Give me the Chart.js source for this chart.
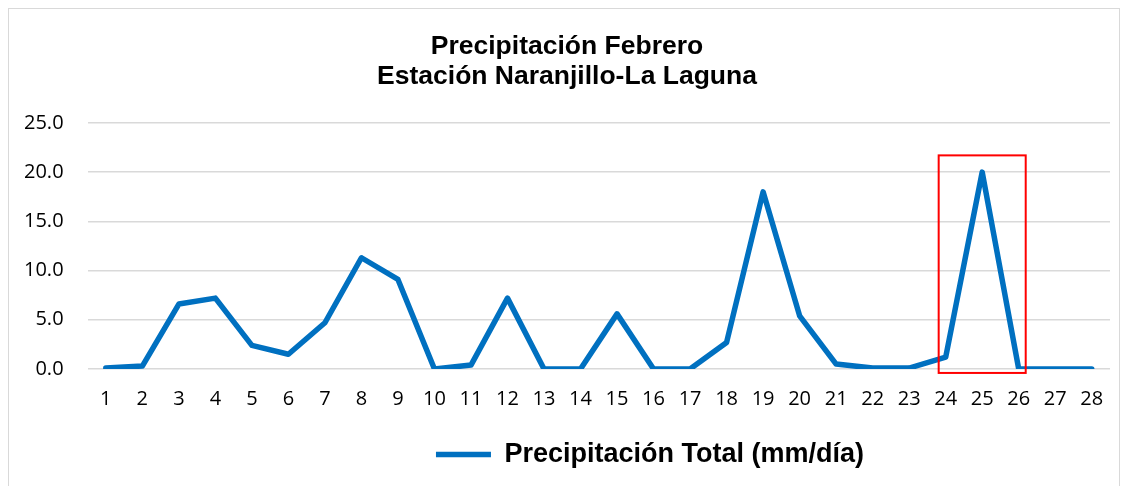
<!DOCTYPE html>
<html>
<head>
<meta charset="utf-8">
<script src="https://cdn.jsdelivr.net/npm/chart.js@4/dist/chart.umd.min.js"></script>
<style>
  html, body { margin: 0; padding: 0; background: #fff; }
  #wrap { width: 1127px; height: 486px; }
</style>
</head>
<body>
<div id="wrap"><canvas id="lluvia" width="1127" height="486"></canvas></div>
<script>
// dias de febrero
const dias = ['1','2','3','4','5','6','7','8','9','10','11','12','13','14','15','16','17','18','19','20','21','22','23','24','25','26','27','28'];
// precipitacion total (mm/dia)
const precipitacion = [0.1, 0.3, 6.6, 7.2, 2.4, 1.5, 4.7, 11.3, 9.1, 0.0, 0.4, 7.2, 0.0, 0.0, 5.6, 0.0, 0.0, 2.7, 18.0, 5.4, 0.5, 0.1, 0.1, 1.2, 20.0, 0.0, 0.0, 0.0];
const tituloLineas = ['Precipitación Febrero', 'Estación Naranjillo-La Laguna'];
const nombreSerie = 'Precipitación Total (mm/día)';
// tramo resaltado (dia inicio, dia fin) y rango en mm
const resaltoDias = ['24', '26'];
const resaltoValores = [-0.4, 21.7];

// en excel el titulo y la leyenda no estan centrados del todo
const corrimientoTitulo = 24;
const corrimientoLeyenda = 190;

const marco = {
  id: 'marco',
  afterLayout(chart) {
    chart.titleBlock.left += corrimientoTitulo;
    chart.legend.left += corrimientoLeyenda;
  },
  beforeDraw(chart) {
    const ctx = chart.ctx;
    ctx.save();
    ctx.fillStyle = '#fff';
    ctx.fillRect(0, 0, chart.width, chart.height);
    ctx.strokeStyle = '#d9d9d9';
    ctx.lineWidth = 1;
    ctx.strokeRect(8.5, 8.5, chart.width - 16, chart.height + 10);
    ctx.restore();
  }
};

const recuadro = {
  id: 'recuadro',
  afterDatasetsDraw(chart) {
    const x = chart.scales.x, y = chart.scales.y;
    const x1 = x.getPixelForValue(dias.indexOf(resaltoDias[0])) - 7;
    const x2 = x.getPixelForValue(dias.indexOf(resaltoDias[1])) + 7;
    const y1 = y.getPixelForValue(resaltoValores[1]);
    const y2 = y.getPixelForValue(resaltoValores[0]);
    const ctx = chart.ctx;
    ctx.save();
    ctx.strokeStyle = '#ff0000';
    ctx.lineWidth = 2;
    ctx.strokeRect(x1, y1, x2 - x1, y2 - y1);
    ctx.restore();
  }
};

new Chart(document.getElementById('lluvia'), {
  type: 'line',
  data: {
    labels: dias,
    datasets: [{
      label: nombreSerie,
      data: precipitacion,
      borderColor: '#0070c0',
      backgroundColor: '#0070c0',
      borderWidth: 5.5,
      borderCapStyle: 'round',
      borderJoinStyle: 'round',
      pointRadius: 0,
      tension: 0
    }]
  },
  options: {
    responsive: false,
    animation: false,
    layout: { padding: { left: 0, right: 17, top: 0, bottom: 8 } },
    plugins: {
      title: {
        display: true,
        text: tituloLineas,
        color: '#000',
        font: { family: 'Liberation Sans, Arial', size: 26.5, weight: 'bold', lineHeight: 1.13 },
        padding: { top: 32, bottom: 31 }
      },
      legend: {
        position: 'bottom',
        labels: {
          color: '#000',
          font: { family: 'Liberation Sans, Arial', size: 27, weight: 'bold' },
          usePointStyle: true,
          pointStyle: 'line',
          pointStyleWidth: 55,
          padding: 10
        }
      },
      tooltip: { enabled: false }
    },
    scales: {
      x: {
        offset: true,
        grid: { display: false },
        border: { display: false },
        ticks: { color: '#000', font: { family: 'Open Sans', size: 20 }, padding: 10, maxRotation: 0 },
        afterFit: s => { s.height += 10; }
      },
      y: {
        min: 0,
        max: 25,
        grid: { color: '#d9d9d9', lineWidth: 1.5, drawTicks: false },
        border: { display: false },
        ticks: {
          stepSize: 5,
          color: '#000',
          padding: 24,
          font: { family: 'Open Sans', size: 20 },
          callback: v => v.toFixed(1)
        }
      }
    }
  },
  plugins: [marco, recuadro]
});
</script>
</body>
</html>
